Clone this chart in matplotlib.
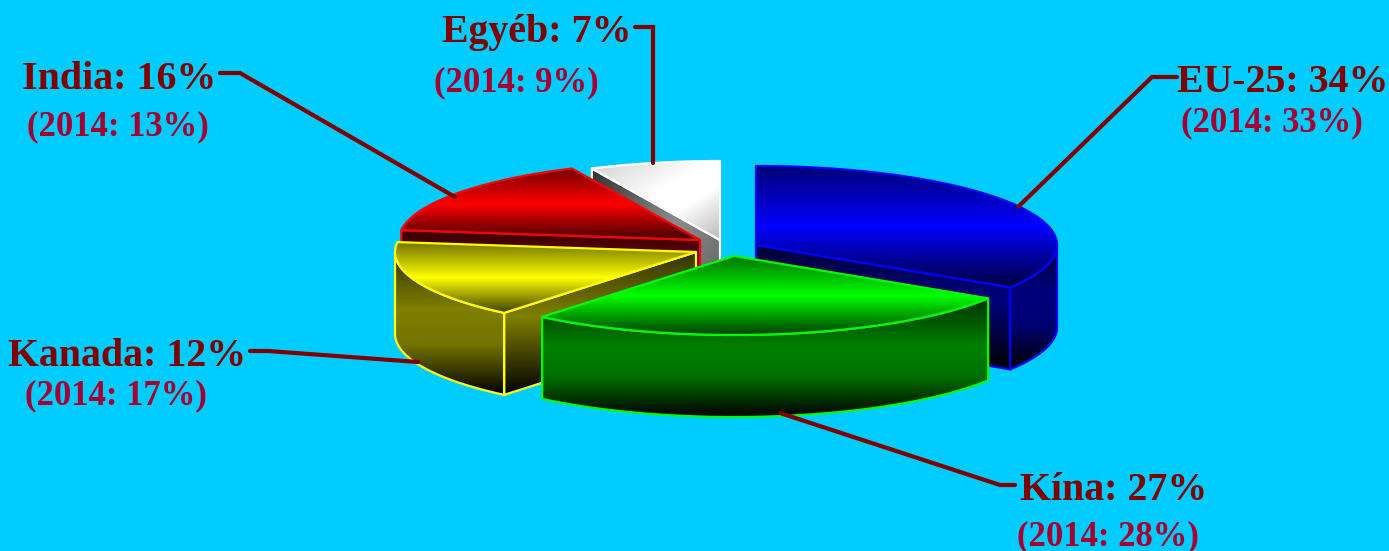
import numpy as np
import matplotlib
matplotlib.use("Agg")
import matplotlib.pyplot as plt
from matplotlib.patches import Polygon

# Shares in percent as labelled, clockwise from the top
categories = ["EU-25", "Kína", "Kanada", "India", "Egyéb"]
shares = [34, 27, 12, 16, 7]
shares_2014 = [33, 28, 17, 13, 9]
# Size of the slices as they are drawn in the picture (Kanada looks like 16)
slice_sizes = [34, 27, 16, 16, 7]

BG = "#00ccff"
LABEL = "#800000"
LABEL_OLD = "#a50030"

# Drawing stuff, in image pixels (y goes down)
colors = [(0, 0, 1), (0, 1, 0), (1, 1, 0), (1, 0, 0), (1, 1, 1)]
apex = [(756, 245), (734, 256), (696, 252), (700, 240), (720, 240)]
draw_order = [4, 3, 2, 0, 1]
RX, RY, DEPTH = 301, 79, 82

label_pos = [(1177, 92), (1020, 500), (8, 366), (22, 89), (442, 42)]
old_pos = [(1181, 131), (1017, 545), (25, 404), (27, 135), (434, 91)]
leaders = [
    [(1177, 77), (1152, 77), (1018, 207)],
    [(1015, 485), (1000, 485), (780, 413)],
    [(250, 351), (268, 351), (418, 362)],
    [(220, 73), (240, 73), (455, 197)],
    [(635, 27), (653, 27), (653, 163)],
]

fig = plt.figure(figsize=(13.89, 5.51), dpi=100, facecolor=BG)
ax = fig.add_axes([0, 0, 1, 1])
ax.set_facecolor(BG)


def fill_gradient(pts, stops, color, zorder, diagonal=False):
    # gradient image clipped to a polygon, stops are (position, brightness)
    pts = np.array(pts)
    x0, y0 = pts.min(axis=0)
    x1, y1 = pts.max(axis=0)
    n = 128
    if diagonal:
        xx, yy = np.meshgrid(np.linspace(0, 1, n), np.linspace(0, 1, n))
        t = (xx + yy) / 2
    else:
        t = np.linspace(0, 1, n)[:, None]
    level = np.interp(t, [s[0] for s in stops], [s[1] for s in stops])
    img = level[..., None] * np.array(color)
    im = ax.imshow(img, extent=(x0, x1, y1, y0), aspect="auto", zorder=zorder,
                   interpolation="bilinear", vmin=0, vmax=1)
    clip = Polygon(pts, closed=True, transform=ax.transData)
    im.set_clip_path(clip)
    ax.add_patch(Polygon(pts, closed=True, fill=False, edgecolor=color, lw=1.6,
                         joinstyle="round", zorder=zorder + 0.5))


def rim(cx, cy, a0, a1, dy=0):
    ang = np.radians(np.linspace(a0, a1, 80))
    return np.column_stack([cx + RX * np.cos(ang), cy - RY * np.sin(ang) + dy])


def face_visible(cx, cy, corner, middle):
    # the cut face shows only if its outward normal points down the screen
    d = corner - (cx, cy)
    m = middle - (cx, cy)
    n = np.array([-d[1], d[0]])
    if n @ m > 0:
        n = -n
    return n[1] > 1


# start/end angle of each slice
spans = []
angle = 90.0
for v in slice_sizes:
    spans.append((angle, angle - v * 3.6))
    angle -= v * 3.6

z = 1
for i in draw_order:
    cx, cy = apex[i]
    a0, a1 = spans[i]
    col = colors[i]
    white = i == 4
    middle = rim(cx, cy, (a0 + a1) / 2, (a0 + a1) / 2)[0]

    # cut faces
    for a in (a0, a1):
        corner = rim(cx, cy, a, a)[0]
        if not face_visible(cx, cy, corner, middle):
            continue
        face = [(cx, cy), corner, corner + (0, DEPTH), (cx, cy + DEPTH)]
        if white:
            stops = [(0, 0.2), (0.5, 0.55), (1, 0.35)]
            fill_gradient(face, stops, col, z, diagonal=True)
        else:
            fill_gradient(face, [(0, 0.2), (0.45, 0.5), (1, 0.0)], col, z)
        z += 1

    # outer wall, only the front half of the ring shows
    lo, hi = max(a1, -180), min(a0, 0)
    if lo < hi:
        top = rim(cx, cy, hi, lo)
        wall = np.vstack([top, rim(cx, cy, lo, hi, DEPTH)])
        fill_gradient(wall, [(0, 0.2), (0.4, 0.5), (0.65, 0.45), (1, 0.0)], col, z)
        z += 1

    # top face
    top_face = np.vstack([[(cx, cy)], rim(cx, cy, a0, a1)])
    if white:
        stops = [(0, 0.82), (0.45, 1.0), (0.65, 1.0), (1, 0.72)]
        fill_gradient(top_face, stops, col, z, diagonal=True)
    else:
        fill_gradient(top_face, [(0, 0.45), (0.5, 1.0), (1, 0.25)], col, z)
    z += 1

for pts in leaders:
    xs, ys = zip(*pts)
    ax.plot(xs, ys, color=LABEL, lw=3, solid_capstyle="round",
            solid_joinstyle="miter", zorder=z)

for name, v, old, p, q in zip(categories, shares, shares_2014, label_pos, old_pos):
    ax.text(p[0], p[1], f"{name}: {v}%", family="Liberation Serif", weight="bold",
            size=28.7, color=LABEL, ha="left", va="baseline", zorder=z + 1)
    ax.text(q[0], q[1], f"(2014: {old}%)", family="Liberation Serif", weight="bold",
            size=24.9, color=LABEL_OLD, ha="left", va="baseline", zorder=z + 1)

ax.set_xlim(0, 1389)
ax.set_ylim(551, 0)
ax.axis("off")
fig.savefig("out.png", dpi=100, facecolor=BG)
